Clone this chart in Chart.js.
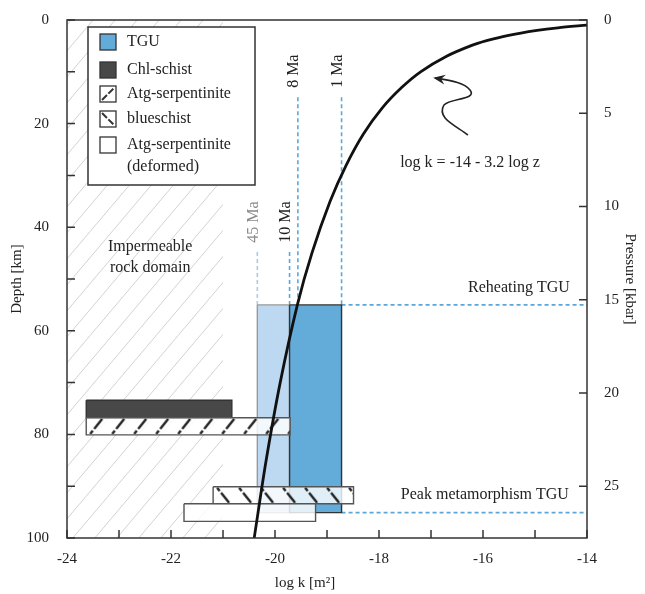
<!DOCTYPE html>
<html>
<head>
<meta charset="utf-8">
<script src="https://cdn.jsdelivr.net/npm/chart.js@4.4.1/dist/chart.umd.min.js"></script>
<style>
  html, body { margin: 0; padding: 0; background: #fff; }
  #wrap { width: 645px; height: 594px; position: relative; }
</style>
</head>
<body>
<div id="wrap"><canvas id="myChartPerm"></canvas></div>
<script>
// DATOS
const units = ["TGU", "Chl-schist", "Atg-serpentinite", "blueschist", "Atg-serpentinite", "(deformed)"];
// cajas: rango de log k [m2] y de profundidad [km]
const tgu45LogK = [-20.34, -19.72];
const tguLogK = [-19.72, -18.72];
const tguDepth = [55, 95.1];
const chlLogK = [-23.63, -20.83];
const chlDepth = [73.4, 76.8];
const atgLogK = [-23.63, -19.71];
const atgDepth = [76.8, 80.1];
const bluLogK = [-21.19, -18.49];
const bluDepth = [90.1, 93.4];
const defLogK = [-21.75, -19.22];
const defDepth = [93.4, 96.8];
const impermLogK = [-24, -21];
const impermDepth = [0, 100];

// edades (lineas punteadas)
const ageLabels = ["45 Ma", "10 Ma", "8 Ma", "1 Ma"];
const ageLogK = [-20.34, -19.72, -19.56, -18.72];
const ageTop = [44.8, 44.8, 14.9, 14.9];
const reheatDepth = 55;
const peakDepth = 95.1;

// curva log k = -14 - 3.2 log z
const curveDepth = [1, 1.5, 2, 3, 4, 5, 7, 10, 13, 17, 22, 28, 35, 45, 55, 70, 85, 100];
const curveLogK = [-14, -14.56, -14.96, -15.53, -15.93, -16.24, -16.7, -17.2, -17.56, -17.94, -18.3, -18.63, -18.94, -19.29, -19.57, -19.9, -20.17, -20.4];

const kbarPerKm = 1 / 3.6;

// COLORES
const cTgu = "#63abd9";
const cTgu45 = "#bdd9f1";
const cChl = "#484848";
const cDash = "#5ba7dc";
const cDash45 = "#aecbe5";
const serif = "'Liberation Serif', 'Times New Roman', serif";

Chart.defaults.font.family = serif;
Chart.defaults.font.size = 15;
Chart.defaults.color = "#222";

function box(xr, yr) {
  return [
    { x: xr[0], y: yr[0] },
    { x: xr[1], y: yr[0] },
    { x: xr[1], y: yr[1] },
    { x: xr[0], y: yr[1] },
    { x: xr[0], y: yr[0] },
  ];
}

function hatch(dir) {
  const w = 22, h = 17;
  const c = document.createElement("canvas");
  c.width = w;
  c.height = h;
  const g = c.getContext("2d");
  g.fillStyle = "rgba(255,255,255,0.8)";
  g.fillRect(0, 0, w, h);
  g.strokeStyle = "#222";
  g.lineWidth = 2.4;
  g.beginPath();
  if (dir > 0) {
    g.moveTo(4, 16); g.lineTo(6.6, 12.8);
    g.moveTo(8, 11); g.lineTo(16, 1);
  } else {
    g.moveTo(4, 1); g.lineTo(6.6, 4.2);
    g.moveTo(8, 6); g.lineTo(16, 16);
  }
  g.stroke();
  return g.createPattern(c, "repeat");
}

function greyHatch() {
  const w = 22, h = 26;
  const c = document.createElement("canvas");
  c.width = w;
  c.height = h;
  const g = c.getContext("2d");
  g.strokeStyle = "#d2d2d2";
  g.lineWidth = 1;
  g.beginPath();
  g.moveTo(0, h); g.lineTo(w, 0);
  g.moveTo(-2, 2.4); g.lineTo(2, -2.4);
  g.moveTo(w - 2, h + 2.4); g.lineTo(w + 2, h - 2.4);
  g.stroke();
  return g.createPattern(c, "repeat");
}

const pAtg = hatch(1);
const pBlu = hatch(-1);

function rect(label, xr, yr, fill, border, order) {
  return {
    label: label,
    data: box(xr, yr),
    showLine: true,
    fill: "shape",
    backgroundColor: fill,
    borderColor: border,
    borderWidth: border ? 1.4 : 0,
    pointRadius: 0,
    tension: 0,
    order: order,
  };
}

const ageSets = ageLabels.map((lab, i) => ({
  label: lab,
  data: [{ x: ageLogK[i], y: ageTop[i] }, { x: ageLogK[i], y: reheatDepth }],
  showLine: true,
  borderColor: i === 0 ? cDash45 : cDash,
  borderWidth: 1.6,
  borderDash: [4, 3],
  pointRadius: 0,
  order: 7,
}));

const horizSets = [reheatDepth, peakDepth].map((d) => ({
  label: "h" + d,
  data: [{ x: tguLogK[1], y: d }, { x: -14, y: d }],
  showLine: true,
  borderColor: cDash,
  borderWidth: 1.6,
  borderDash: [4, 3],
  pointRadius: 0,
  order: 7,
}));

const curve = {
  label: "log k",
  data: curveDepth.map((d, i) => ({ x: curveLogK[i], y: d })),
  showLine: true,
  borderColor: "#111",
  borderWidth: 2.8,
  pointRadius: 0,
  tension: 0.3,
  order: 0,
};

// decoraciones: marco, ticks hacia adentro, textos, flecha y leyenda
const decoPlugin = {
  id: "deco",
  beforeDatasetsDraw(chart) {
    // alinear el rayado con el borde superior de cada barra
    const { x, y } = chart.scales;
    pAtg.setTransform(new DOMMatrix([1, 0, 0, 1, x.getPixelForValue(atgLogK[0]), y.getPixelForValue(atgDepth[0])]));
    pBlu.setTransform(new DOMMatrix([1, 0, 0, 1, x.getPixelForValue(bluLogK[0]), y.getPixelForValue(bluDepth[0])]));
  },
  afterDatasetsDraw(chart) {
    const { ctx, chartArea: a, scales } = chart;
    const x = scales.x, y = scales.y, y2 = scales.y2;
    const P = (lk, d) => [x.getPixelForValue(lk), y.getPixelForValue(d)];
    ctx.save();

    // marco
    ctx.strokeStyle = "#333";
    ctx.lineWidth = 1.5;
    ctx.strokeRect(a.left, a.top, a.right - a.left, a.bottom - a.top);

    // ticks
    ctx.beginPath();
    x.ticks.forEach((t) => {
      const px = x.getPixelForValue(t.value);
      ctx.moveTo(px, a.bottom); ctx.lineTo(px, a.bottom - 8);
    });
    y.ticks.forEach((t) => {
      const py = y.getPixelForValue(t.value);
      ctx.moveTo(a.left, py); ctx.lineTo(a.left + 8, py);
    });
    y2.ticks.forEach((t) => {
      const py = y2.getPixelForValue(t.value);
      ctx.moveTo(a.right, py); ctx.lineTo(a.right - 8, py);
    });
    ctx.stroke();

    // titulo eje x
    ctx.fillStyle = "#222";
    ctx.font = "15px " + serif;
    ctx.textBaseline = "middle";
    ctx.textAlign = "center";
    ctx.fillText("log k [m²]", (a.left + a.right) / 2 - 22, a.bottom + 45);

    // textos
    ctx.font = "16px " + serif;
    let p = P(-22.4, 43.8);
    ctx.fillText("Impermeable", p[0], p[1]);
    p = P(-22.4, 47.9);
    ctx.fillText("rock domain", p[0], p[1]);
    p = P(-16.25, 27.6);
    ctx.fillText("log k = -14 - 3.2 log z", p[0], p[1]);
    ctx.textAlign = "right";
    p = P(-14.33, 51.7);
    ctx.fillText("Reheating TGU", p[0], p[1]);
    p = P(-14.35, 91.7);
    ctx.fillText("Peak metamorphism TGU", p[0], p[1]);

    // etiquetas de edad
    ageLabels.forEach((lab, i) => {
      const q = P(ageLogK[i], ageTop[i] - 1.8);
      ctx.save();
      ctx.translate(q[0] - 4, q[1]);
      ctx.rotate(-Math.PI / 2);
      ctx.textAlign = "left";
      ctx.fillStyle = i === 0 ? "#8a8a8a" : "#222";
      ctx.fillText(lab, 0, 0);
      ctx.restore();
    });

    // flecha
    const arrow = [
      [-16.29, 22.2], [-16.54, 20.3], [-16.9, 18.9], [-16.75, 16.4],
      [-16.63, 15.1], [-16.1, 15.4], [-16.25, 13.5],
      [-16.37, 12.0], [-16.62, 11.7], [-16.92, 11.2],
    ];
    const ap = arrow.map((v) => P(v[0], v[1]));
    ctx.strokeStyle = "#222";
    ctx.lineWidth = 1.6;
    ctx.beginPath();
    ctx.moveTo(ap[0][0], ap[0][1]);
    for (let i = 1; i < ap.length; i += 3) {
      ctx.bezierCurveTo(ap[i][0], ap[i][1], ap[i + 1][0], ap[i + 1][1], ap[i + 2][0], ap[i + 2][1]);
    }
    ctx.stroke();
    const tip = ap[ap.length - 1], from = ap[ap.length - 2];
    const ang = Math.atan2(tip[1] - from[1], tip[0] - from[0]);
    ctx.fillStyle = "#222";
    ctx.beginPath();
    ctx.moveTo(tip[0] + 2 * Math.cos(ang), tip[1] + 2 * Math.sin(ang));
    ctx.lineTo(tip[0] - 10 * Math.cos(ang) + 5 * Math.sin(ang), tip[1] - 10 * Math.sin(ang) - 5 * Math.cos(ang));
    ctx.lineTo(tip[0] - 6 * Math.cos(ang), tip[1] - 6 * Math.sin(ang));
    ctx.lineTo(tip[0] - 10 * Math.cos(ang) - 5 * Math.sin(ang), tip[1] - 10 * Math.sin(ang) + 5 * Math.cos(ang));
    ctx.closePath();
    ctx.fill();

    // leyenda
    const lx = a.left + 21, ly = a.top + 7;
    ctx.fillStyle = "#fff";
    ctx.fillRect(lx, ly, 167, 158);
    ctx.strokeStyle = "#333";
    ctx.lineWidth = 1.5;
    ctx.strokeRect(lx, ly, 167, 158);
    const rows = [15, 43, 67, 92, 118, 140];
    const fills = [cTgu, cChl, "#fff", "#fff", "#fff"];
    ctx.font = "16px " + serif;
    ctx.textAlign = "left";
    for (let i = 0; i < 5; i++) {
      const sx = lx + 12, sy = ly + rows[i] - 8;
      ctx.fillStyle = fills[i];
      ctx.fillRect(sx, sy, 16, 16);
      ctx.strokeStyle = "#333";
      ctx.lineWidth = 1.3;
      ctx.strokeRect(sx, sy, 16, 16);
      if (i === 2 || i === 3) {
        ctx.save();
        ctx.lineWidth = 2;
        ctx.setLineDash([7, 2]);
        ctx.beginPath();
        if (i === 2) { ctx.moveTo(sx + 2, sy + 14); ctx.lineTo(sx + 14, sy + 2); }
        else { ctx.moveTo(sx + 2, sy + 2); ctx.lineTo(sx + 14, sy + 14); }
        ctx.stroke();
        ctx.restore();
      }
    }
    ctx.fillStyle = "#222";
    units.forEach((u, i) => ctx.fillText(u, lx + 39, ly + rows[i]));

    ctx.restore();
  },
};

const cPerm = document.getElementById("myChartPerm");
new Chart(cPerm, {
  type: "scatter",
  data: {
    datasets: [
      curve,
      rect("deformed", defLogK, defDepth, "rgba(255,255,255,0.82)", "#555", 1),
      rect("blueschist", bluLogK, bluDepth, pBlu, "#555", 2),
      rect("atg", atgLogK, atgDepth, pAtg, "#555", 3),
      rect("chl", chlLogK, chlDepth, cChl, "#333", 4),
      rect("tgu", tguLogK, tguDepth, cTgu, "#333", 5),
      rect("tgu45", tgu45LogK, tguDepth, cTgu45, "#999", 6),
      ...ageSets,
      ...horizSets,
      rect("imperm", impermLogK, impermDepth, greyHatch(), null, 8),
    ],
  },
  options: {
    responsive: true,
    maintainAspectRatio: false,
    animation: false,
    events: [],
    layout: { padding: { top: 20, left: 0, right: 0, bottom: 0 } },
    plugins: {
      legend: { display: false },
      tooltip: { enabled: false },
    },
    scales: {
      x: {
        type: "linear",
        min: -24,
        max: -14,
        grid: { display: false },
        border: { display: false },
        ticks: {
          stepSize: 1,
          autoSkip: false,
          maxRotation: 0,
          padding: 4,
          callback: (v) => (v % 2 === 0 ? String(v) : ""),
        },
        afterFit: (s) => { s.height = 56; },
      },
      y: {
        type: "linear",
        reverse: true,
        min: 0,
        max: 100,
        grid: { display: false },
        border: { display: false },
        ticks: {
          stepSize: 10,
          autoSkip: false,
          padding: 10,
          callback: (v) => (v % 20 === 0 ? String(v) : ""),
        },
        title: { display: true, text: "Depth [km]", font: { size: 15 }, padding: { top: 8, bottom: 4 } },
        afterFit: (s) => { s.width = 67; },
      },
      y2: {
        type: "linear",
        position: "right",
        reverse: true,
        min: 0,
        max: 100 * kbarPerKm,
        grid: { display: false },
        border: { display: false },
        ticks: { stepSize: 5, includeBounds: false, autoSkip: false, padding: 9 },
        title: { display: true, text: "Pressure [kbar]", font: { size: 15 }, padding: { top: 6, bottom: 4 } },
        afterFit: (s) => { s.width = 58; },
      },
    },
  },
  plugins: [decoPlugin],
});
</script>
</body>
</html>
